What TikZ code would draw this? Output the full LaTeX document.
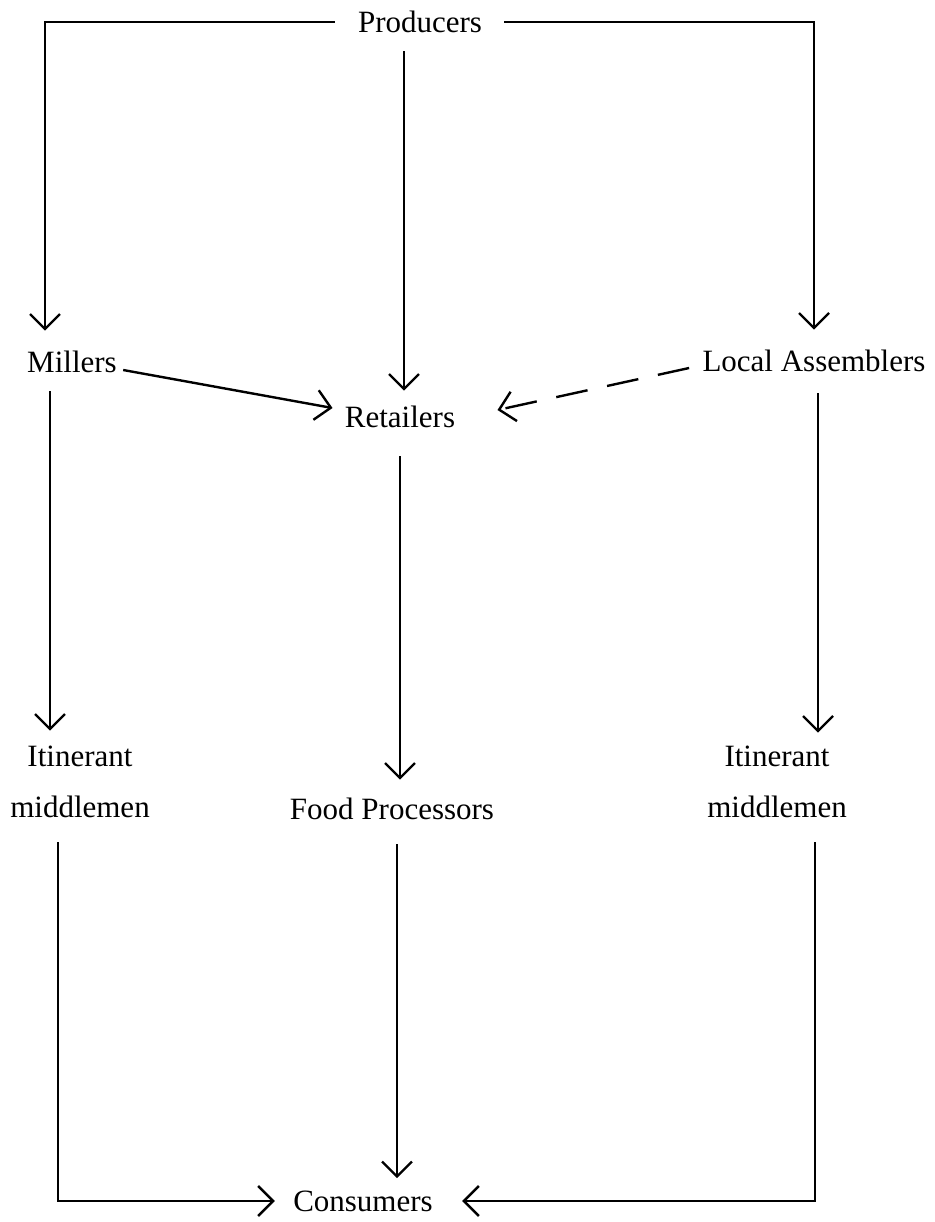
\documentclass[tikz,border=0pt]{standalone}
\usepackage{fontspec}
\setmainfont{Liberation Serif}
\usepackage{tikz}
\usetikzlibrary{arrows.meta, calc}

\begin{document}
\begin{tikzpicture}[x=0.5pt, y=-0.5pt, >={Straight Barb[length=7.5pt, width=15pt]}]
	\tikzstyle{entity} = [inner sep=0pt, align=center, font=\fontsize{15.5}{25.5}\selectfont]
	\tikzstyle{link} = [->, line width=1.2pt]

	\useasboundingbox (0,0) rectangle (934,1222);

	\path
		node[entity] (prod) at (420,22) {Producers}
		node[entity] (mill) at (72,362) {Millers}
		node[entity] (ret) at (400,417) {Retailers}
		node[entity] (loc) at (814,361) {Local Assemblers}
		node[entity] (itl) at (80,782) {Itinerant\\middlemen}
		node[entity] (food) at (392,809) {Food Processors}
		node[entity] (itr) at (777,782) {Itinerant\\middlemen}
		node[entity] (cons) at (363,1201) {Consumers}
	;

	% from the producers
	\draw[link] ($(prod.west)+(-23,0)$) -| ($(mill.north)+(-27,-20)$);
	\draw[link] ($(prod.east)+(22,0)$) -| ($(loc.north)+(0,-20)$);
	\draw[link] ($(ret.north |- prod.south)+(4,18)$) -- ($(ret.north)+(4,-15)$);

	% into the retailers
	\draw[link] ($(mill.east)+(6,8)$) -- ($(ret.west)+(-12,-9)$);
	\draw[link, dash pattern=on 16pt off 10pt] ($(loc.west)+(-13,7)$) -- ($(ret.east)+(42,-7)$);

	% down to the middlemen and processors
	\draw[link] ($(mill.south)+(-22,18)$) -- ($(itl.north)+(-30,-15)$);
	\draw[link] ($(ret.south)+(0,28)$) -- ($(food.north)+(8,-18)$);
	\draw[link] ($(loc.south)+(4,21)$) -- ($(itr.north)+(41,-13)$);

	% to the consumers
	\draw[link] ($(itl.south)+(-22,24)$) |- ($(cons.west)+(-18,0)$);
	\draw[link] ($(food.south)+(5,24)$) -- ($(cons.north)+(34,-12)$);
	\draw[link] ($(itr.south)+(38,24)$) |- ($(cons.east)+(29,0)$);
\end{tikzpicture}
\end{document}
